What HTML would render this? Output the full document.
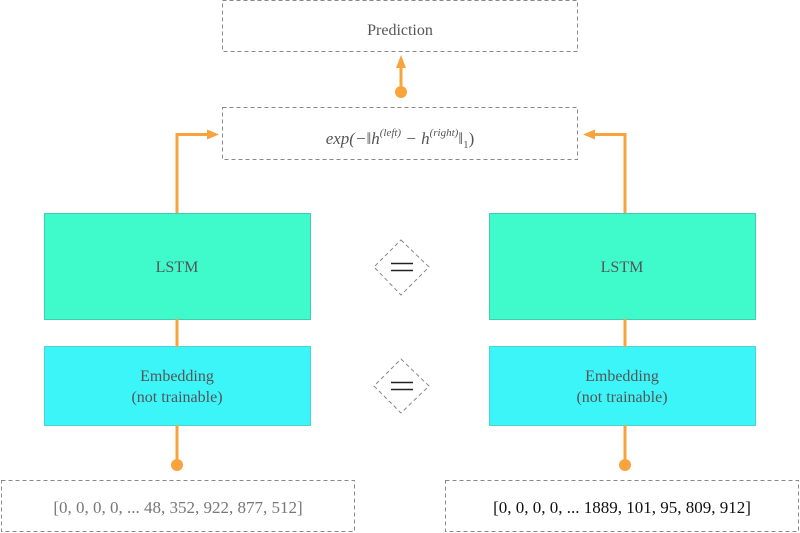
<!DOCTYPE html>
<html><head><meta charset="utf-8"><style>
html,body{margin:0;padding:0;background:#fff;width:800px;height:533px;overflow:hidden}
text{font-family:"Liberation Serif",serif;fill:#555}
</style></head><body>
<svg width="800" height="533" viewBox="0 0 800 533" xmlns="http://www.w3.org/2000/svg">
<g fill="none" stroke="#888" stroke-width="1" stroke-dasharray="4,3">
<rect x="222.5" y="0.5" width="355" height="51"/>
<rect x="222.5" y="107.5" width="355" height="52"/>
<rect x="1.5" y="480.5" width="353" height="51"/>
<rect x="445.5" y="480.5" width="353" height="51"/>
<polygon points="401,240 429,267 401,295 374,267"/>
<polygon points="401,359 429,386 401,413 374,386"/>
</g>
<g stroke="#222" stroke-width="1.5">
<line x1="391" y1="263.5" x2="413" y2="263.5"/><line x1="391" y1="270.5" x2="413" y2="270.5"/>
<line x1="391" y1="382.5" x2="413" y2="382.5"/><line x1="391" y1="389.5" x2="413" y2="389.5"/>
</g>
<rect x="44.5" y="213.5" width="266" height="106" fill="#3ffbcc" stroke="#3cd0b0"/>
<rect x="489.5" y="213.5" width="266" height="106" fill="#3ffbcc" stroke="#3cd0b0"/>
<rect x="44.5" y="346.5" width="266" height="79" fill="#3cf5f8" stroke="#49d5d8"/>
<rect x="489.5" y="346.5" width="266" height="79" fill="#3cf5f8" stroke="#49d5d8"/>
<g stroke="#f9a33c" stroke-width="3" fill="none">
<polyline points="177,213 177,134.5 209,134.5"/>
<polyline points="625,213 625,134.5 593,134.5"/>
<line x1="177" y1="319" x2="177" y2="347"/>
<line x1="625" y1="319" x2="625" y2="347"/>
<line x1="177" y1="425" x2="177" y2="462"/>
<line x1="625" y1="425" x2="625" y2="462"/>
<line x1="401" y1="90" x2="401" y2="64"/>
</g>
<g fill="#f9a33c">
<polygon points="207,129.5 219,134.5 207,139.5"/>
<polygon points="595,129.5 583,134.5 595,139.5"/>
<polygon points="396,68 401,55 406,68"/>
<circle cx="401" cy="92" r="6"/>
<circle cx="177" cy="465" r="6"/>
<circle cx="625" cy="465" r="6"/>
</g>
<text x="400" y="35" font-size="16" text-anchor="middle">Prediction</text>
<text x="400" y="144" font-size="17" text-anchor="middle" font-style="italic">exp(−‖h<tspan font-size="11" dy="-8">(left)</tspan><tspan dy="8"> − h</tspan><tspan font-size="11" dy="-8">(right)</tspan><tspan dy="8" font-style="normal">‖</tspan><tspan font-size="11" dy="4" font-style="normal">1</tspan><tspan dy="-4" font-style="normal">)</tspan></text>
<text x="177" y="272" font-size="16" text-anchor="middle">LSTM</text>
<text x="622" y="272" font-size="16" text-anchor="middle">LSTM</text>
<text x="177" y="381" font-size="16" text-anchor="middle">Embedding</text>
<text x="177" y="402" font-size="16" text-anchor="middle">(not trainable)</text>
<text x="622" y="381" font-size="16" text-anchor="middle">Embedding</text>
<text x="622" y="402" font-size="16" text-anchor="middle">(not trainable)</text>
<text x="178" y="513" font-size="17" text-anchor="middle" style="fill:#777">[0, 0, 0, 0, ... 48, 352, 922, 877, 512]</text>
<text x="622" y="513" font-size="17" text-anchor="middle" style="fill:#111">[0, 0, 0, 0, ... 1889, 101, 95, 809, 912]</text>
</svg>
</body></html>
